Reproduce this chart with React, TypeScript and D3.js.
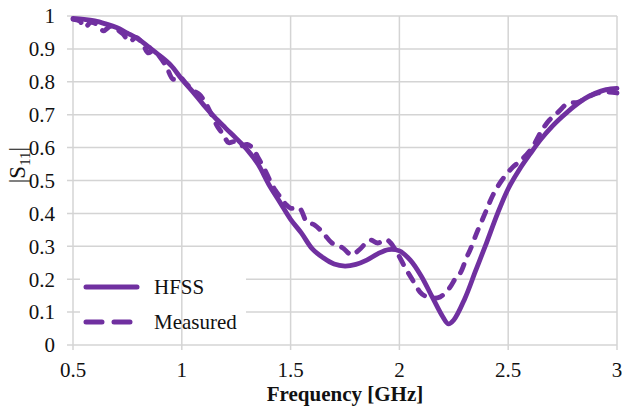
import React from "react";
import * as d3 from "d3";

const xTicks = [0.5, 1, 1.5, 2, 2.5, 3];
const yTicks = [0, 0.1, 0.2, 0.3, 0.4, 0.5, 0.6, 0.7, 0.8, 0.9, 1];

const hfssFreq = [0.5, 0.55, 0.6, 0.65, 0.7, 0.75, 0.8, 0.85, 0.9, 0.95, 1.0, 1.05, 1.1, 1.15, 1.2, 1.25, 1.3, 1.35, 1.4, 1.45, 1.5, 1.55, 1.6, 1.65, 1.7, 1.75, 1.8, 1.85, 1.9, 1.95, 2.0, 2.05, 2.1, 2.15, 2.2, 2.225, 2.25, 2.3, 2.35, 2.4, 2.45, 2.5, 2.55, 2.6, 2.65, 2.7, 2.75, 2.8, 2.85, 2.9, 2.95, 3.0];
const hfssValues = [0.993, 0.99, 0.985, 0.976, 0.965, 0.948, 0.93, 0.905, 0.879, 0.85, 0.808, 0.77, 0.73, 0.693, 0.66, 0.628, 0.594, 0.55, 0.488, 0.435, 0.382, 0.34, 0.292, 0.265, 0.246, 0.24, 0.245, 0.258, 0.277, 0.29, 0.286, 0.258, 0.21, 0.147, 0.085, 0.064, 0.076, 0.14, 0.225, 0.31, 0.398, 0.475, 0.532, 0.58, 0.625, 0.663, 0.695, 0.724, 0.748, 0.765, 0.776, 0.78];

const measFreq = [0.5, 0.53, 0.555, 0.58, 0.61, 0.64, 0.67, 0.7, 0.73, 0.76, 0.79, 0.82, 0.845, 0.87, 0.9, 0.93, 0.96, 0.99, 1.02, 1.05, 1.08, 1.11, 1.14, 1.165, 1.19, 1.215, 1.24, 1.27, 1.3, 1.33, 1.35, 1.38, 1.405, 1.43, 1.45, 1.475, 1.5, 1.54, 1.575, 1.61, 1.65, 1.69, 1.74, 1.78, 1.815, 1.865, 1.9, 1.94, 1.96, 1.99, 2.025, 2.06, 2.095, 2.12, 2.15, 2.187, 2.23, 2.26, 2.28, 2.31, 2.325, 2.355, 2.4, 2.43, 2.47, 2.52, 2.56, 2.61, 2.655, 2.69, 2.73, 2.775, 2.82, 2.867, 2.913, 2.96, 3.0];
const measValues = [0.99, 0.985, 0.965, 0.98, 0.975, 0.955, 0.968, 0.96, 0.945, 0.922, 0.935, 0.915, 0.888, 0.895, 0.875, 0.845, 0.808, 0.815, 0.795, 0.775, 0.762, 0.735, 0.695, 0.663, 0.64, 0.615, 0.618, 0.605, 0.61, 0.595, 0.57, 0.535, 0.5, 0.47, 0.452, 0.43, 0.416, 0.416, 0.374, 0.365, 0.34, 0.31, 0.295, 0.274, 0.289, 0.319, 0.31, 0.32, 0.31, 0.28, 0.237, 0.198, 0.161, 0.148, 0.143, 0.146, 0.173, 0.205, 0.219, 0.268, 0.289, 0.34, 0.41, 0.456, 0.5, 0.54, 0.562, 0.6, 0.653, 0.684, 0.708, 0.735, 0.738, 0.754, 0.766, 0.769, 0.766];

const seriesNames = ["HFSS", "Measured"];

const COLOR = "#7030A0";
const GRID = "#d4d4d4";
const FONT = "'Times New Roman', 'Liberation Serif', Times, serif";

export default function App() {
  const W = 622, H = 408;
  const x = d3.scaleLinear().domain([0.5, 3]).range([73, 617]);
  const y = d3.scaleLinear().domain([0, 1]).range([345, 16]);

  const line = d3
    .line<[number, number]>()
    .x((d) => x(d[0]))
    .y((d) => y(d[1]))
    .curve(d3.curveCatmullRom.alpha(0.5));

  const hfss = hfssFreq.map((f, i) => [f, hfssValues[i]] as [number, number]);
  const meas = measFreq.map((f, i) => [f, measValues[i]] as [number, number]);

  const legX = 86, legW = 51;
  const legY = [287, 322];
  const txt = { fontFamily: FONT, fill: "#111" } as React.CSSProperties;

  return (
    <svg width={W} height={H} style={{ position: "absolute", left: 0, top: 0, background: "#fff", fontFamily: FONT }}>
      <rect x={0} y={0} width={W} height={H} fill="#fff" />
      {yTicks.map((t) => (
        <line key={"h" + t} x1={x(0.5) - 6} x2={x(3)} y1={y(t)} y2={y(t)} stroke={GRID} strokeWidth={1.5} />
      ))}
      <rect x={80} y={268} width={166} height={70} fill="#fff" />
      {xTicks.map((t) => (
        <line key={"v" + t} x1={x(t)} x2={x(t)} y1={y(1)} y2={y(0) + 5} stroke={GRID} strokeWidth={1.5} />
      ))}
      {yTicks.map((t) => (
        <text key={"yl" + t} x={55} y={y(t)} dy="0.35em" textAnchor="end" fontSize={21} style={txt}>
          {String(t)}
        </text>
      ))}
      {xTicks.map((t) => (
        <text key={"xl" + t} x={x(t)} y={377} textAnchor="middle" fontSize={21} style={txt}>
          {String(t)}
        </text>
      ))}
      <text x={(x(0.5) + x(3)) / 2} y={401} textAnchor="middle" fontSize={21} fontWeight="bold" style={txt}>
        Frequency [GHz]
      </text>
      <text transform="translate(25,165) rotate(-90)" textAnchor="middle" fontSize={23} style={txt}>
        |S<tspan fontSize={15} dy={5}>11</tspan><tspan dy={-5}>|</tspan>
      </text>
      <path d={line(hfss) || ""} fill="none" stroke={COLOR} strokeWidth={4.8} strokeLinejoin="round" strokeLinecap="round" />
      <path d={line(meas) || ""} fill="none" stroke={COLOR} strokeWidth={4.8} strokeDasharray="9 10" strokeLinejoin="round" strokeLinecap="round" />
      {seriesNames.map((name, i) => (
        <g key={name}>
          <line x1={legX} x2={legX + legW} y1={legY[i]} y2={legY[i]} stroke={COLOR} strokeWidth={5} strokeLinecap="round" strokeDasharray={i === 1 ? "16 12" : undefined} />
          <text x={154} y={legY[i]} dy="0.35em" fontSize={21} style={txt}>
            {name}
          </text>
        </g>
      ))}
    </svg>
  );
}
